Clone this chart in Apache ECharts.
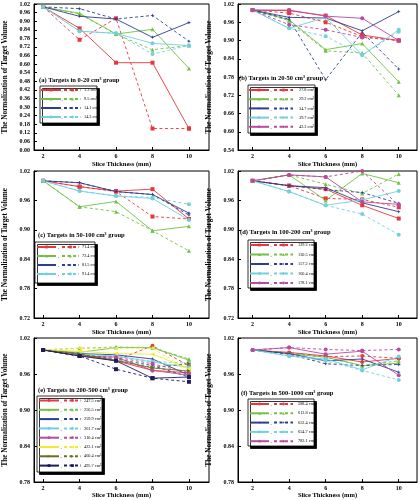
<!DOCTYPE html>
<html><head><meta charset="utf-8">
<script src="https://cdn.jsdelivr.net/npm/echarts@6/dist/echarts.min.js"></script>
<style>html,body{margin:0;padding:0;background:#fff}#c{width:419px;height:500px}</style>
</head><body><div id="c"></div>
<script>
const X = [2, 4, 6, 8, 10];
const xTicks = [2, 4, 6, 8, 10];

const aNames = ['1.3 cm³', '9.5 cm³', '14.1 cm³', '14.3 cm³'];
const aSolid = [
  [1.00, 0.85, 0.61, 0.61, 0.15],
  [1.00, 0.955, 0.81, 0.843, 0.57],
  [1.00, 0.934, 0.915, 0.787, 0.89],
  [1.00, 0.83, 0.815, 0.745, 0.73]];
const aDashed = [
  [1.00, 0.77, 0.92, 0.15, 0.15],
  [1.00, 0.95, 0.81, 0.70, 0.73],
  [1.00, 0.987, 0.915, 0.94, 0.76],
  [1.00, 0.83, 0.815, 0.67, 0.73]];

const bNames = ['27.8 cm³', '29.2 cm³', '34.7 cm³', '39.7 cm³', '42.3 cm³'];
const bSolid = [
  [1.00, 0.998, 0.982, 0.918, 0.90],
  [1.00, 0.968, 0.87, 0.89, 0.764],
  [1.00, 0.976, 0.974, 0.932, 0.995],
  [1.00, 0.94, 0.976, 0.852, 0.935],
  [1.00, 1.00, 0.98, 0.973, 0.90]];
const bDashed = [
  [1.00, 0.99, 0.96, 0.913, 0.90],
  [1.00, 0.965, 0.866, 0.859, 0.72],
  [1.00, 0.97, 0.771, 0.927, 0.806],
  [1.00, 0.94, 0.914, 0.852, 0.929],
  [1.00, 0.952, 0.935, 0.91, 0.90]];

const cNames = ['71.4 cm³', '72.4 cm³', '81.5 cm³', '91.4 cm³'];
const cSolid = [
  [1.00, 0.988, 0.979, 0.983, 0.922],
  [1.00, 0.947, 0.958, 0.898, 0.907],
  [1.00, 0.996, 0.978, 0.972, 0.934],
  [1.00, 0.979, 0.969, 0.964, 0.92]];
const cDashed = [
  [1.00, 0.988, 0.978, 0.927, 0.922],
  [1.00, 0.947, 0.937, 0.898, 0.857],
  [1.00, 0.996, 0.978, 0.972, 0.93],
  [1.00, 0.979, 0.969, 0.966, 0.952]];

const dNames = ['129.2 cm³', '130.5 cm³', '157.2 cm³', '160.4 cm³', '178.1 cm³'];
const dSolid = [
  [1.00, 0.99, 0.983, 0.95, 0.923],
  [1.00, 1.012, 0.96, 1.015, 0.996],
  [1.00, 0.99, 0.986, 0.955, 0.937],
  [1.00, 0.978, 0.95, 0.961, 0.979],
  [1.00, 1.012, 1.008, 0.957, 0.952]];
const dDashed = [
  [1.00, 0.99, 0.964, 0.962, 0.946],
  [1.00, 1.012, 0.993, 0.974, 1.014],
  [1.00, 0.99, 0.982, 0.976, 0.954],
  [1.00, 0.978, 0.95, 0.932, 0.89],
  [1.00, 1.012, 1.008, 1.02, 0.95]];

const eNames = ['247.5 cm³', '256.5 cm³', '259.9 cm³', '261.7 cm³', '310.4 cm³', '423.1 cm³', '460.4 cm³', '495.7 cm³'];
const eSolid = [
  [1.00, 0.992, 0.982, 0.966, 0.962],
  [1.00, 0.996, 1.004, 1.004, 0.983],
  [1.00, 0.994, 0.992, 0.985, 0.958],
  [1.00, 0.993, 0.99, 0.98, 0.971],
  [1.00, 0.99, 0.988, 0.966, 0.958],
  [1.00, 0.998, 0.994, 0.993, 0.969],
  [1.00, 0.993, 0.983, 0.97, 0.965],
  [1.00, 0.99, 0.982, 0.953, 0.955]];
const eDashed = [
  [1.00, 0.99, 0.983, 1.007, 0.974],
  [1.00, 1.003, 1.005, 1.004, 0.985],
  [1.00, 0.994, 0.985, 0.974, 0.955],
  [1.00, 0.993, 0.99, 0.981, 0.978],
  [1.00, 0.99, 0.988, 0.977, 0.962],
  [1.00, 1.003, 1.003, 1.003, 0.966],
  [1.00, 0.993, 0.982, 0.971, 0.977],
  [1.00, 0.99, 0.968, 0.953, 0.947]];

const fNames = ['588.4 cm³', '612.8 cm³', '652.4 cm³', '654.7 cm³', '783.1 cm³'];
const fSolid = [
  [1.00, 0.996, 0.99, 0.98, 0.986],
  [1.00, 0.994, 0.988, 0.974, 0.978],
  [1.00, 0.994, 0.982, 0.985, 0.963],
  [1.00, 0.99, 0.985, 0.967, 0.989],
  [1.00, 1.004, 0.993, 0.998, 0.958]];
const fDashed = [
  [1.00, 0.995, 0.989, 0.99, 0.986],
  [1.00, 0.994, 0.988, 0.974, 0.982],
  [1.00, 0.993, 0.977, 0.974, 0.976],
  [1.00, 0.99, 0.982, 0.966, 0.95],
  [1.00, 1.004, 1.001, 0.999, 1.001]];

const panelTitles = [
  '(a) Targets in 0-20 cm³ group', '(b) Targets in 20-50 cm³ group',
  '(c) Targets in 50-100 cm³ group', '(d) Targets in 100-200 cm³ group',
  '(e) Targets in 200-500 cm³ group', '(f) Targets in 500-1000 cm³ group'];
const yMins = [0.00, 0.54, 0.72, 0.72, 0.78, 0.78];
const xTitle = 'Slice Thickness (mm)';
const yTitle = 'The Normalization of Target Volume';

// styles
const COLORS = ['#e8373c', '#72c145', '#2d3e8f', '#70d0dc', '#b94a9e', '#f2ea2e', '#6b6f1e', '#1d1d5e'];
const STAR4 = 'path://M0,-10 L2.6,-2.6 L10,0 L2.6,2.6 L0,10 L-2.6,2.6 L-10,0 L-2.6,-2.6 Z';
const TRI_L = 'path://M-10,0 L10,-9 L10,9 Z';
const TRI_R = 'path://M10,0 L-10,-9 L-10,9 Z';
const SYM_AD = ['rect', 'triangle', STAR4, 'circle', 'circle'];
const SYM_EF = ['circle', 'triangle', STAR4, 'circle', 'circle', TRI_L, TRI_R, 'rect'];
const FONT = 'Liberation Serif';

// layout: grid [left, top, w, h]; legend box [x, y, w, h]; s1/w1 solid icon; d2/w2 dashed icon; tx text start
const panels = [
  {names: aNames, solid: aSolid, dashed: aDashed, sym: SYM_AD, grid: [34, 4, 175, 146], xr: [1.5, 11.1],
   box: [40, 86, 57, 37], s1: 40, w1: 20, d2: 63, w2: 17, tx: 83, row0: 90, gap: 9, title: [39, 77]},
  {names: bNames, solid: bSolid, dashed: bDashed, sym: SYM_AD, grid: [238, 4, 179, 146], xr: [1.2, 11.0],
   box: [248, 85, 67, 48], s1: 248, w1: 20, d2: 273, w2: 19, tx: 298, row0: 90, gap: 9.2, title: [239, 75]},
  {names: cNames, solid: cSolid, dashed: cDashed, sym: SYM_AD, grid: [34, 171, 175, 147], xr: [1.5, 11.1],
   box: [35, 242, 60, 41], s1: 36, w1: 19, d2: 61, w2: 17, tx: 81, row0: 247, gap: 9, title: [38, 232]},
  {names: dNames, solid: dSolid, dashed: dDashed, sym: SYM_AD, grid: [238, 171, 179, 147], xr: [1.2, 11.0],
   box: [248, 240, 66, 48], s1: 249, w1: 19, d2: 273, w2: 19, tx: 297, row0: 245, gap: 9.5, title: [240, 229]},
  {names: eNames, solid: eSolid, dashed: eDashed, sym: SYM_EF, grid: [34, 338, 175, 149], xr: [1.5, 11.1],
   box: [37, 396, 65, 76], s1: 38, w1: 20, d2: 63, w2: 17, tx: 83, row0: 400.5, gap: 9.3, title: [38, 387]},
  {names: fNames, solid: fSolid, dashed: fDashed, sym: SYM_EF, grid: [238, 338, 179, 149], xr: [1.2, 11.0],
   box: [248, 399, 66, 47], s1: 249, w1: 19, d2: 273, w2: 19, tx: 297, row0: 404, gap: 9.3, title: [241, 390]}
];

const option = {
  animation: false,
  backgroundColor: '#fff',
  grid: [], xAxis: [], yAxis: [], series: [], legend: [], title: [], graphic: []
};

panels.forEach((p, pi) => {
  const [gl, gt, gw, gh] = p.grid;
  option.grid.push({left: gl, top: gt, width: gw, height: gh, show: true, borderColor: '#000', borderWidth: 1, backgroundColor: 'transparent'});
  option.xAxis.push({
    type: 'value', gridIndex: pi, min: p.xr[0], max: p.xr[1],
    name: xTitle, nameLocation: 'middle', nameGap: pi < 4 ? 11 : 10,
    nameTextStyle: {fontFamily: FONT, fontWeight: 'bold', fontSize: 6.5, color: '#000'},
    axisLine: {onZero: false, lineStyle: {color: '#000', width: 1}},
    axisTick: {inside: true, length: 3, customValues: xTicks, lineStyle: {color: '#000'}},
    axisLabel: {customValues: xTicks, fontFamily: FONT, fontWeight: 'bold', fontSize: 6, color: '#000', margin: 3},
    splitLine: {show: false}
  });
  option.yAxis.push({
    type: 'value', gridIndex: pi, min: yMins[pi], max: 1.02, interval: 0.06,
    name: yTitle, nameLocation: 'middle', nameGap: 25, nameRotate: 90,
    nameTextStyle: {fontFamily: FONT, fontWeight: 'bold', fontSize: 7.2, color: '#000'},
    axisLine: {onZero: false, lineStyle: {color: '#000', width: 1}},
    axisTick: {inside: true, length: 3, lineStyle: {color: '#000'}},
    axisLabel: {formatter: v => v.toFixed(2), fontFamily: FONT, fontWeight: 'bold', fontSize: 6, color: '#000', margin: 4},
    splitLine: {show: false}
  });
  const solidNames = [], dashNames = [];
  p.names.forEach((n, i) => {
    const col = COLORS[i];
    const sName = n + ' (solid)';
    solidNames.push(sName); dashNames.push(n);
    option.series.push({
      type: 'line', name: sName, xAxisIndex: pi, yAxisIndex: pi,
      data: X.map((x, k) => [x, p.solid[i][k]]),
      symbol: p.sym[i], symbolSize: 4, showSymbol: true, z: 2,
      itemStyle: {color: col}, lineStyle: {color: col, width: 0.9, type: 'solid'}
    });
    option.series.push({
      type: 'line', name: n, xAxisIndex: pi, yAxisIndex: pi,
      data: X.map((x, k) => [x, p.dashed[i][k]]),
      symbol: p.sym[i], symbolSize: 4, showSymbol: true, z: 2,
      itemStyle: {color: col}, lineStyle: {color: col, width: 0.9, type: [3, 2.5]}
    });
  });
  const [bx, by, bw, bh] = p.box;
  const legTop = p.row0 - p.gap / 2;
  const commaX = (p.s1 + p.w1 + p.d2) / 2 - 1;
  option.legend.push({
    data: solidNames, orient: 'vertical', left: p.s1, top: legTop, padding: 0, itemGap: 0,
    itemWidth: p.w1, itemHeight: 3.5, selectedMode: false, z: 6,
    formatter: () => ',',
    textStyle: {fontFamily: FONT, fontSize: 4.5, color: '#000', lineHeight: p.gap,
      padding: [0, 0, 0, commaX - (p.s1 + p.w1 + 5)]}
  });
  option.legend.push({
    data: dashNames, orient: 'vertical', left: p.d2, top: legTop, padding: 0, itemGap: 0,
    itemWidth: p.w2, itemHeight: 3.5, selectedMode: false, z: 6,
    textStyle: {fontFamily: FONT, fontSize: 4.3, color: '#000', lineHeight: p.gap,
      padding: [0, 0, 0, p.tx - (p.d2 + p.w2 + 5)]}
  });
  option.graphic.push({
    type: 'rect', z: 4, shape: {x: bx, y: by, width: bw, height: bh},
    style: {fill: '#fff', stroke: '#000', lineWidth: 0.8, shadowColor: '#000', shadowOffsetX: 2.5, shadowOffsetY: 2.5, shadowBlur: 0}
  });
  option.title.push({
    text: panelTitles[pi], left: p.title[0], top: p.title[1], padding: 0, z: 6,
    textStyle: {fontFamily: FONT, fontWeight: 'bold', fontSize: 6.5, color: '#000'}
  });
});

const chart = echarts.init(document.getElementById('c'), null, {renderer: 'canvas'});
chart.setOption(option);
</script>
</body></html>
